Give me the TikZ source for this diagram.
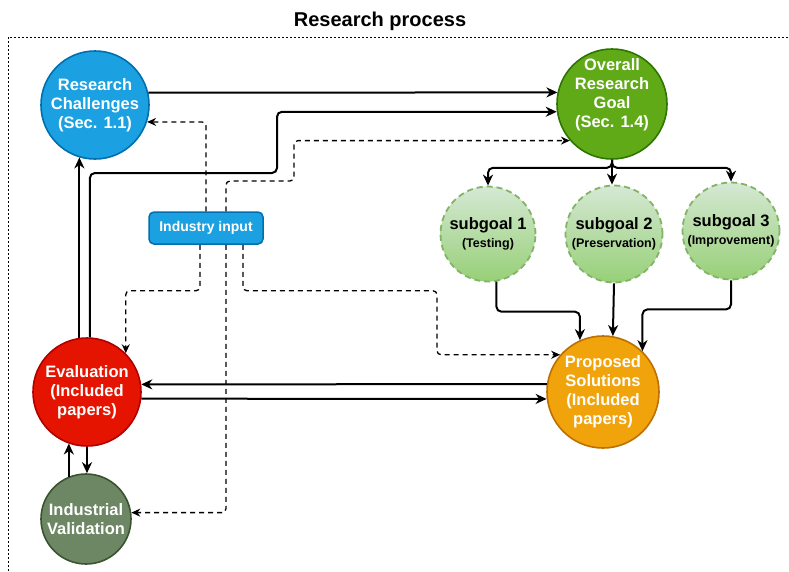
\documentclass[tikz,border=0pt]{standalone}
\usepackage{fontspec}
\setmainfont{Liberation Sans}
\usetikzlibrary{shapes, arrows.meta, positioning, calc}
\definecolor{chblue}{HTML}{1BA1E2}
\definecolor{chblueline}{HTML}{006EAF}
\definecolor{goalgreen}{HTML}{60A917}
\definecolor{goalline}{HTML}{2D7600}
\definecolor{evalred}{HTML}{E51400}
\definecolor{evalline}{HTML}{B20000}
\definecolor{valgreen}{HTML}{6D8764}
\definecolor{valline}{HTML}{3A5431}
\definecolor{solorange}{HTML}{F0A30A}
\definecolor{solline}{HTML}{BD7000}
\definecolor{subtop}{HTML}{D5E8D4}
\definecolor{subbottom}{HTML}{97D077}
\definecolor{subline}{HTML}{82B366}

\newcommand{\subnote}[1]{{\fontsize{12.5}{14}\selectfont #1}}

\tikzset{
  bubble/.style={circle, draw, line width=1.6pt, inner sep=0pt, align=center, text=white,
    font=\fontsize{16.5}{19}\selectfont\bfseries},
  subbubble/.style={circle, draw=subline, line width=1.8pt, dash pattern=on 6pt off 4pt,
    top color=subtop, bottom color=subbottom, inner sep=0pt, minimum size=95pt, align=center,
    font=\fontsize{16.5}{20}\selectfont\bfseries},
  conn/.style={line width=2pt, rounded corners=5pt, -{Stealth[length=11pt, width=10pt, inset=3.5pt]}},
  dconn/.style={line width=1.3pt, rounded corners=4pt, dash pattern=on 5pt off 4pt,
    -{Stealth[length=9pt, width=8pt, inset=3pt]}}
}

\begin{document}
\begin{tikzpicture}[x=1pt, y=-1pt]
  \useasboundingbox (0,0) rectangle (789,571);
  \draw[line width=0.7pt, dash pattern=on 2pt off 2pt] (8,571) |- (789,37);
  \node[font=\fontsize{20}{24}\selectfont\bfseries] (title) at (380,21) {Research process};

  \node[bubble, fill=chblue, draw=chblueline, minimum size=108pt] (rc) at (95,105) {Research\\Challenges\\(Sec. 1.1)};
  \node[bubble, fill=goalgreen, draw=goalline, minimum size=110pt] (goal) at (612,104) {};
  \node[text=white, align=center, font=\fontsize{16.5}{19}\selectfont\bfseries] (goaltext) at ([yshift=9.5pt]goal.center) {Overall\\Research\\Goal\\(Sec. 1.4)};
  \node[subbubble] (sg1) at (488,234) {subgoal 1\\[-2pt]\subnote{(Testing)}};
  \node[subbubble, minimum size=97pt] (sg2) at (614,234) {subgoal 2\\[-2pt]\subnote{(Preservation)}};
  \node[subbubble, minimum size=97pt] (sg3) at (731,231) {subgoal 3\\[-2pt]\subnote{(Improvement)}};
  \node[draw=chblueline, fill=chblue, line width=1.5pt, rounded corners=5pt, minimum width=114pt, minimum height=32pt,
    text=white, font=\fontsize{14}{16}\selectfont\bfseries] (ind) at (206,228) {Industry input};
  \node[bubble, fill=evalred, draw=evalline, minimum size=108pt] (eval) at (87,392) {Evaluation\\(Included\\papers)};
  \node[bubble, fill=valgreen, draw=valline, minimum size=90pt] (iv) at (86,519) {Industrial\\Validation};
  \node[bubble, fill=solorange, draw=solline, minimum size=112pt] (ps) at (603,392) {Proposed\\Solutions\\(Included\\papers)};

  \draw[conn] (rc.13) -- (goal.168);
  \draw[conn] (eval.87) |- (277,173) |- (goal.188);
  \draw[conn] (eval.98) -- (eval.98 |- rc.253);
  \draw[dconn] (ind.north) |- (rc.342);
  \draw[dconn] ([xshift=20pt]ind.north) |- (294,181) |- (goal.221);
  \draw[dconn] ([xshift=-6pt]ind.south) -- ++(0,46) -| (eval.45);
  \draw[dconn] ([xshift=20pt]ind.south) |- (iv.8);
  \draw[dconn] ([xshift=37pt]ind.south) -- ++(0,46) -- ++(194,0) |- (ps.139);
  \draw[conn] (ps.172) -- (eval.8);
  \draw[conn] (eval.353) -- (ps.187);
  \draw[conn] (goal.south) -- ++(0,8) -| (sg1.north);
  \draw[conn] (goal.south) -- ++(0,8) -| (sg3.north);
  \draw[conn] (goal.south) -- (goal.south |- sg2.north);
  \draw[conn] (sg1.280) -- ++(0,30) -| (ps.114);
  \draw[conn] (sg2.south) -- (ps.80);
  \draw[conn] (sg3.south) -- ++(0,29) -| (ps.46);
  \draw[conn] (eval.south) -- (eval.south |- iv.north);
  \draw[conn] (iv.112) -- (iv.112 |- eval.250);
\end{tikzpicture}
\end{document}
